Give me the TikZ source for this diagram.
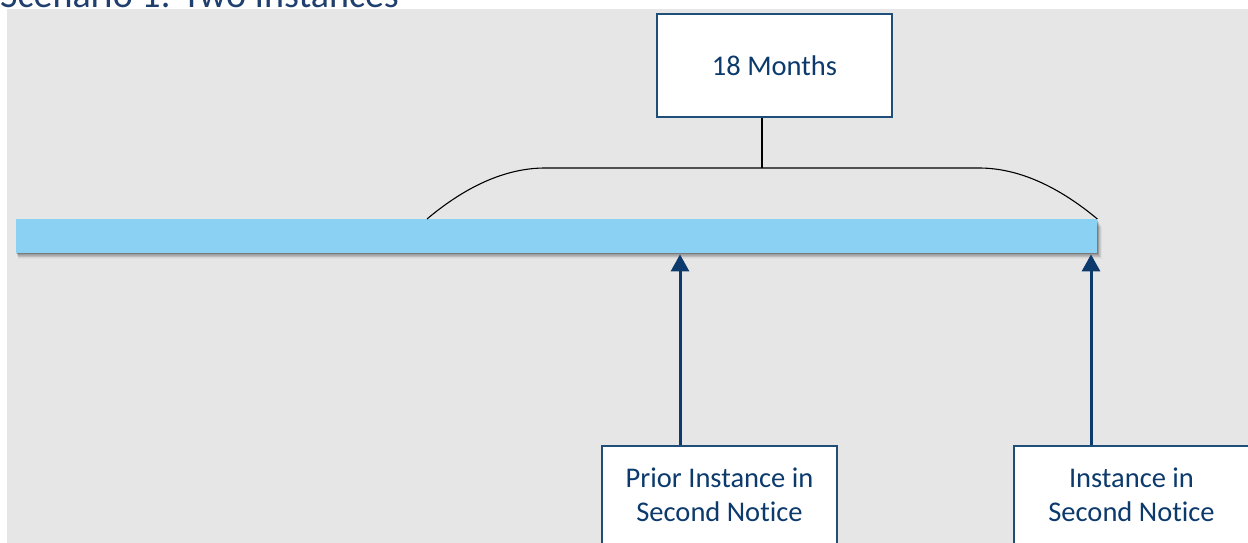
\documentclass[tikz,border=0pt]{standalone}
\usepackage{fontspec}
\setmainfont{Carlito}[Ligatures=NoCommon]
\usetikzlibrary{arrows.meta}
\definecolor{bggray}{HTML}{E6E6E6}
\definecolor{barblue}{HTML}{8AD1F3}
\definecolor{navy}{HTML}{0C3A6C}
\definecolor{boxline}{HTML}{1F4E79}
\definecolor{titleblue}{HTML}{1F3F6E}
\tikzset{
  x=1pt, y=-1pt,
  infobox/.style={draw=boxline, line width=1.6pt, fill=white, text=navy,
    minimum width=235pt, align=center, inner sep=0pt,
    font=\fontsize{28.5}{34}\selectfont},
  uparrow/.style={draw=navy, line width=3pt, -{Triangle[width=18pt,length=17pt]}},
  braceline/.style={draw=black, line width=1.1pt},
}
\begin{document}
\begin{tikzpicture}
\useasboundingbox (0,0) rectangle (1248,542);
\clip (0,0) rectangle (1248,542);
% background
\fill[bggray] (7,9) rectangle (1260,560);
% title
\node[anchor=base west, inner sep=0pt, text=titleblue, font=\fontsize{38}{44}\selectfont] (title) at (0,7.5) {Scenario 1: Two Instances};
% bar shadow
\foreach \d/\o in {1/0.11,2/0.10,3/0.09,4/0.08,5/0.07,6/0.05,7/0.04,8/0.03}{
  \fill[black, opacity=\o] (16+\d*0.3,219+\d) rectangle (1097+\d*0.6,253+\d*0.7);
}
% bar
\node[fill=barblue, minimum width=1081pt, minimum height=34pt, inner sep=0pt, anchor=north west] (bar) at (16,219) {};
% months box
\node[infobox, minimum height=103pt] (months) at (774.5,65.5) {18 Months};
% brace
\coordinate (bracetop) at (762,168);
\coordinate (bl) at (bar.north west -| 427,0);
\coordinate (br) at (bar.north east);
\draw[braceline] (bl) .. controls (465,187) and (505,168) .. (545,168) -- (979,168) .. controls (1019,168) and (1059,187) .. (br);
\draw[draw=black, line width=1.8pt] (bracetop |- months.south) -- (bracetop);
% bottom boxes
\node[infobox, minimum height=98pt, anchor=north] (prior) at (719.5,445) {Prior Instance in\\Second Notice};
\node[infobox, minimum height=98pt, anchor=north] (inst) at (1131.5,445) {Instance in\\Second Notice};
% arrows
\coordinate (a1) at (680,0);
\coordinate (a2) at (1091,0);
\draw[uparrow] (prior.north -| a1) -- ([yshift=-1pt]a1 |- bar.south);
\draw[uparrow] (inst.north -| a2) -- ([yshift=-1pt]a2 |- bar.south);
\end{tikzpicture}
\end{document}
